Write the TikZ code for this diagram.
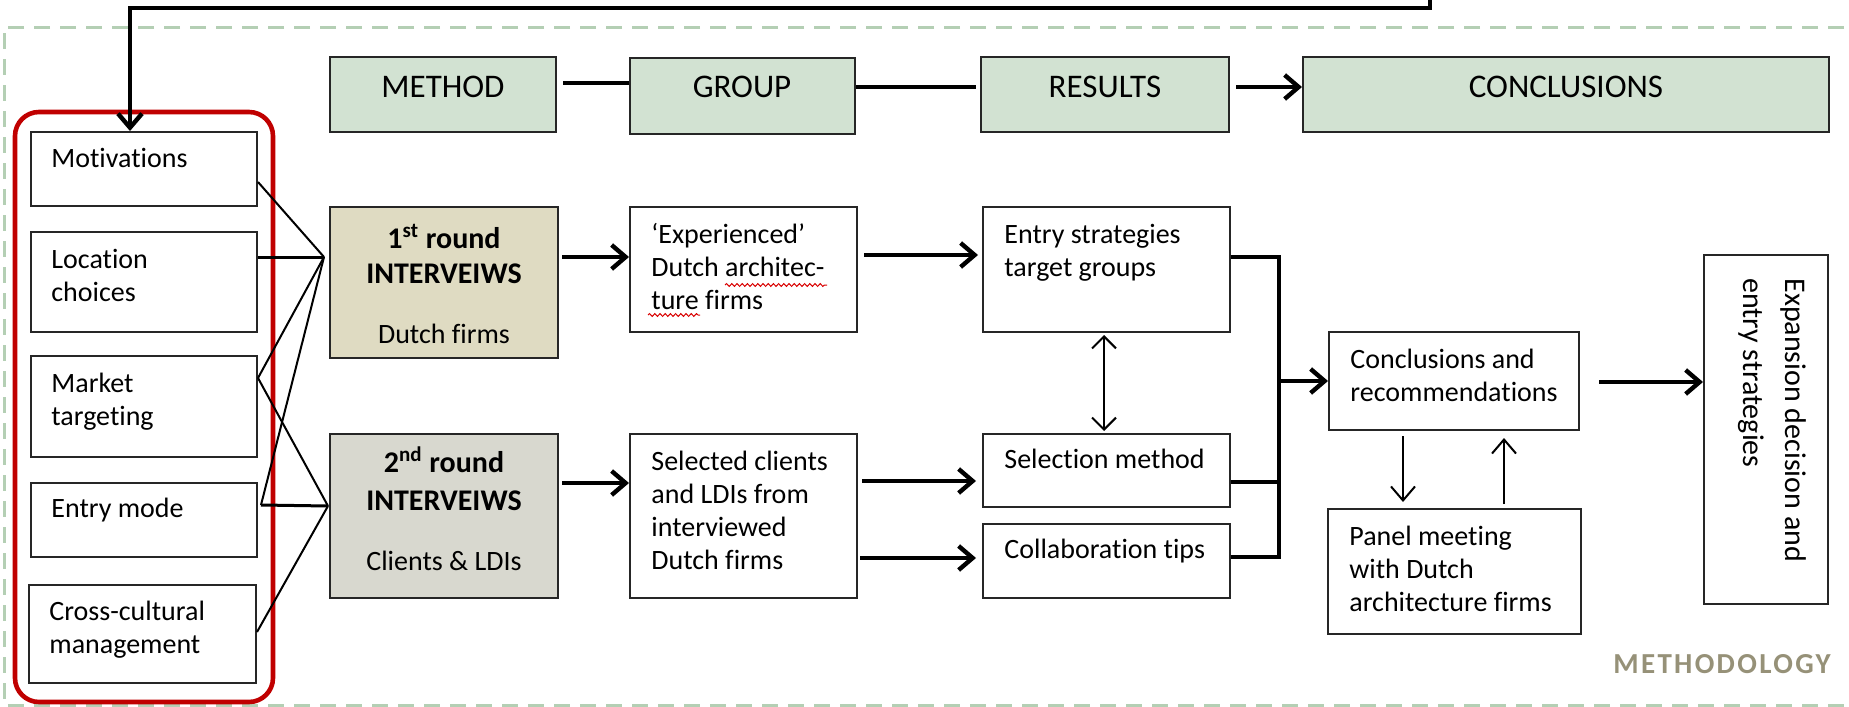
\documentclass[tikz,border=0pt]{standalone}
\usepackage{fontspec}
\setmainfont{Carlito}[Ligatures={NoCommon}]
\newfontfamily\methfont[LetterSpace=8,Ligatures={NoCommon}]{Carlito}
\usetikzlibrary{arrows.meta,fit,decorations.pathmorphing}
\definecolor{hdrc}{HTML}{D2E2D2}
\definecolor{tanc}{HTML}{DFDBC2}
\definecolor{grayc}{HTML}{D8D8CF}
\definecolor{dashc}{HTML}{B4CFB4}
\definecolor{redc}{HTML}{C00000}
\definecolor{methc}{HTML}{969178}
\newcommand{\lns}[1]{\vtop{\halign{##\hfil\cr #1\crcr}}}
\tikzset{
  bx/.style={draw=black!85, line width=1pt, inner sep=0pt, fill=white},
  hdr/.style={bx, fill=hdrc},
  txt/.style={inner sep=0pt, anchor=base west, font=\fontsize{14pt}{16.5pt}\selectfont},
  ctxt/.style={inner sep=0pt, anchor=base, font=\fontsize{14pt}{16.5pt}\selectfont},
  htxt/.style={inner sep=0pt, anchor=base, font=\fontsize{16.5pt}{20pt}\selectfont},
  btxt/.style={inner sep=0pt, anchor=base, font=\fontsize{15pt}{18pt}\selectfont\bfseries},
  rtxt/.style={inner sep=0pt, anchor=base west, rotate=-90, font=\fontsize{15pt}{21pt}\selectfont},
  thk/.style={line width=2.2pt},
  thn/.style={line width=1pt},
  tip/.style={-{Straight Barb[length=7pt,width=12pt]}},
  dtip/.style={{Straight Barb[length=6pt,width=12pt]}-{Straight Barb[length=6pt,width=12pt]}},
  frame/.style={draw=dashc, line width=1.5pt, dash pattern=on 8pt off 5pt},
  redbox/.style={draw=redc, line width=2.3pt, rounded corners=12pt, inner sep=0pt},
  squig/.style={draw=red!85!black, line width=0.5pt, decorate, decoration={snake, amplitude=0.7pt, segment length=2.6pt}}
}
\begin{document}
\begin{tikzpicture}[x=0.5pt,y=-0.5pt]
\useasboundingbox (0,0) rectangle (1849,707);
\clip (0,0) rectangle (1849,707);
% dashed frame
\draw[frame] (1870,27) -- (4,27) -- (4,705) -- (1870,705);
% red group
\node[redbox, fit={(15,112)(273,702)}] (grp) {};
% left boxes
\node[bx, fit={(31,132)(257,206)}] (motiv) {};
\node[bx, fit={(31,232)(257,332)}] (loc) {};
\node[bx, fit={(31,356)(257,457)}] (market) {};
\node[bx, fit={(31,483)(257,557)}] (entry) {};
\node[bx, fit={(29,585)(256,683)}] (cross) {};
\node[txt] (motivT) at (51,167) {Motivations};
\node[txt] (locT) at (51,268) {\lns{Location\cr choices}};
\node[txt] (marketT) at (51,392) {\lns{Market\cr targeting}};
\node[txt] (entryT) at (51,517) {Entry mode};
\node[txt] (crossT) at (49,620) {\lns{Cross-cultural\cr management}};
% header boxes
\node[hdr, fit={(330,57)(556,132)}] (method) {};
\node[hdr, fit={(630,58)(855,134)}] (group) {};
\node[hdr, fit={(981,57)(1229,132)}] (results) {};
\node[hdr, fit={(1303,57)(1829,132)}] (concl) {};
\node[htxt] (methodT) at (443,97) {METHOD};
\node[htxt] (groupT) at (742,97) {GROUP};
\node[htxt] (resultsT) at (1105,97) {RESULTS};
\node[htxt] (conclT) at (1566,97) {CONCLUSIONS};
% interview boxes
\node[bx, fill=tanc, fit={(330,207)(558,358)}] (r1) {};
\node[bx, fill=grayc, fit={(330,434)(558,598)}] (r2) {};
\node[btxt] (r1a) at (444,248) {1\textsuperscript{st} round};
\node[btxt] (r1b) at (444,283) {INTERVEIWS};
\node[ctxt] (r1c) at (444,343) {Dutch firms};
\node[btxt] (r2a) at (444,472) {2\textsuperscript{nd} round};
\node[btxt] (r2b) at (444,510) {INTERVEIWS};
\node[ctxt] (r2c) at (444,570) {Clients \& LDIs};
% middle boxes
\node[bx, fit={(630,207)(857,332)}] (exp) {};
\node[bx, fit={(630,434)(857,598)}] (sel) {};
\node[bx, fit={(983,207)(1230,332)}] (ent) {};
\node[bx, fit={(983,434)(1230,507)}] (selm) {};
\node[bx, fit={(983,524)(1230,598)}] (collab) {};
\node[txt] (expT) at (651,243) {\lns{‘Experienced’\cr Dutch architec-\cr ture firms}};
\node[txt] (selT) at (651,470) {\lns{Selected clients\cr and LDIs from\cr interviewed\cr Dutch firms}};
\node[txt] (entT) at (1004,243) {\lns{Entry strategies\cr target groups}};
\node[txt] (selmT) at (1004,468) {Selection method};
\node[txt] (collabT) at (1004,558) {Collaboration tips};
% right boxes
\node[bx, fit={(1329,332)(1579,430)}] (conrec) {};
\node[bx, fit={(1328,509)(1581,634)}] (panel) {};
\node[bx, fit={(1704,255)(1828,604)}] (expan) {};
\node[txt] (conrecT) at (1350,368) {\lns{Conclusions and\cr recommendations}};
\node[txt] (panelT) at (1349,545) {\lns{Panel meeting\cr with Dutch\cr architecture firms}};
\node[rtxt] (expanT) at (1785,278) {\lns{Expansion decision and\cr entry strategies}};
\node[inner sep=0pt, anchor=base west, text=methc, font=\fontsize{14.5pt}{17pt}\methfont\bfseries] (methT) at (1613,673) {METHODOLOGY};
% spell-check squiggles
\draw[squig] (725,285) -- (827,285);
\draw[squig] (648,315) -- (700,315);
% feedback line
\coordinate (fbtop) at (1430,-10);
\coordinate (fbturn) at (130,8);
\draw[thk, tip] (fbtop) |- (fbturn) -- (fbturn |- motiv.north);
% header connectors
\draw[thk, shorten <=3pt] (method.east |- 0,83) -- (group.west |- 0,83);
\draw[thk, shorten >=2pt] (group.east |- 0,87) -- (results.west |- 0,87);
\draw[thk, tip, shorten <=3pt] (results.east |- 0,87) -- (concl.west |- 0,87);
% left connectors
\coordinate (c1) at (324,257);
\coordinate (c2) at (328,506);
\draw[thn] (motiv.east |- 0,182) -- (c1);
\draw[line width=1.5pt] (loc.east |- 0,257) -- (c1);
\draw[thn] (market.east |- 0,378) -- (c1);
\draw[thn] (market.east |- 0,378) -- (c2);
\draw[thn] (entry.east |- 0,505) ++(3,0) -- (c1);
\draw[line width=1.5pt] (entry.east |- 0,505) ++(3,0) -- (c2);
\draw[thn] (cross.east |- 0,632) -- (c2);
% flow arrows
\draw[thk, tip, shorten <=1.5pt] (r1.east |- 0,257) -- (exp.west |- 0,257);
\draw[thk, tip, shorten <=1.5pt] (r2.east |- 0,483) -- (sel.west |- 0,483);
\draw[thk, tip, shorten <=3pt, shorten >=2pt] (exp.east |- 0,255) -- (ent.west |- 0,255);
\draw[thk, tip, shorten <=2pt, shorten >=3pt] (sel.east |- 0,481) -- (selm.west |- 0,481);
\draw[thk, tip, shorten <=1pt, shorten >=3pt] (sel.east |- 0,558) -- (collab.west |- 0,558);
\draw[thn, dtip, shorten <=1pt, shorten >=1pt] (ent.south -| 1104,0) -- (selm.north -| 1104,0);
% bracket
\coordinate (bt) at (1279,257);
\coordinate (bb) at (1279,557);
\draw[thk] (ent.east |- bt) -- (bt) -- (bb) -- (collab.east |- bb);
\draw[thk] (selm.east |- 0,482) -- (bt |- 0,482);
\draw[thk, tip] (bt |- conrec.west) -- (conrec.west);
\draw[thk, tip, shorten <=9.5pt] (conrec.east |- 0,382) -- (expan.west |- 0,382);
% panel arrows
\draw[thn, tip, shorten <=2.5pt, shorten >=3pt] (conrec.south -| 1403,0) -- (panel.north -| 1403,0);
\draw[thn, tip, shorten <=2pt, shorten >=3.5pt] (panel.north -| 1504,0) -- (conrec.south -| 1504,0);
\end{tikzpicture}
\end{document}
